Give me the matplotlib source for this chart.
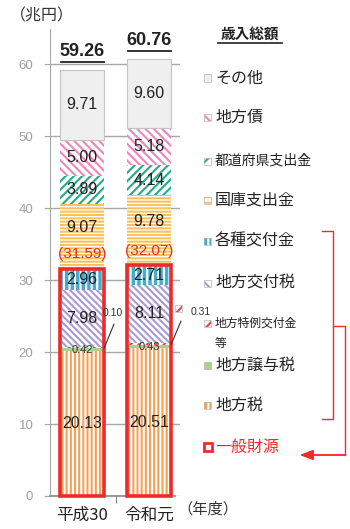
import matplotlib
matplotlib.use("Agg")
import matplotlib.pyplot as plt
from matplotlib.patches import Rectangle
from matplotlib.lines import Line2D

plt.rcParams['font.family'] = ['Noto Sans CJK JP', 'DejaVu Sans']
plt.rcParams['hatch.linewidth'] = 1.5

# ---- data (兆円) ----
categories = ['平成30', '令和元']
local_tax = [20.13, 20.51]          # 地方税
transfer_tax = [0.42, 0.43]         # 地方譲与税
special_grant = [0.10, 0.31]        # 地方特例交付金等
allocation_tax = [7.98, 8.11]       # 地方交付税
misc_grants = [2.96, 2.71]          # 各種交付金
treasury = [9.07, 9.78]             # 国庫支出金
prefectural = [3.89, 4.14]          # 都道府県支出金
bonds = [5.00, 5.18]                # 地方債
other = [9.71, 9.60]                # その他
totals = [59.26, 60.76]             # 歳入総額
general = [31.59, 32.07]            # 一般財源

W, H = 350, 529
RED = '#ee2a2a'
NUM_FONT = ['Liberation Sans', 'DejaVu Sans']


def fp(x, y):
    return (x / W, 1 - y / H)


fig = plt.figure(figsize=(W / 100, H / 100), dpi=100)
ax = fig.add_axes([50 / W, 33 / H, 130 / W, 467.5 / H])
ax.set_xlim(-0.48, 1.46)
ax.set_ylim(0, 65)

# (name, values, face, hatch colour, hatch, show label)
series = [
    ('地方税', local_tax, '#f5a056', 'white', '||||', True),
    ('地方譲与税', transfer_tax, '#a9d18e', '#a9d18e', None, False),
    ('地方特例交付金等', special_grant, 'white', '#e84545', '////', False),
    ('地方交付税', allocation_tax, 'white', '#a99bd3', '\\\\\\\\\\', True),
    ('各種交付金', misc_grants, '#45acd0', 'white', '|||', True),
    ('国庫支出金', treasury, 'white', '#fcc25a', '-----', True),
    ('都道府県支出金', prefectural, 'white', '#22ad84', '////', True),
    ('地方債', bonds, 'white', '#f184bb', '\\\\\\\\', True),
    ('その他', other, '#efefef', '#efefef', None, True),
]
label_shift = {'国庫支出金': 1.2}

x = [0, 1]
width = 0.66
bottom = [0.0, 0.0]
for name, vals, face, hc, hatch, show in series:
    if name == 'その他':
        ax.bar(x, vals, width, bottom=bottom, color=face, edgecolor='#c4c4c4',
               linewidth=0.8, zorder=3)
    else:
        ax.bar(x, vals, width, bottom=bottom, color=face, edgecolor=hc,
               hatch=hatch, linewidth=0, zorder=3)
    if show:
        for i in range(2):
            yc = bottom[i] + vals[i] / 2 + label_shift.get(name, 0)
            ax.text(x[i], yc, f'{vals[i]:.2f}', ha='center', va='center',
                    fontsize=11.5, color='#222222', family=NUM_FONT, zorder=6)
    bottom = [b + v for b, v in zip(bottom, vals)]

# small segment labels
for i in range(2):
    yb = local_tax[i] + transfer_tax[i] / 2
    ax.text(x[i], yb, f'{transfer_tax[i]:.2f}', ha='center', va='center',
            fontsize=8, color='#333333', family=NUM_FONT, zorder=6)

# leader lines for 地方特例交付金等
sg_y = [local_tax[i] + transfer_tax[i] + special_grant[i] / 2 for i in range(2)]
ax.annotate('', xy=(0 + width / 2, sg_y[0]), xycoords='data',
            xytext=fp(114, 324), textcoords='figure fraction',
            arrowprops=dict(arrowstyle='-', color='#333333', lw=0.8,
                            shrinkA=0, shrinkB=0), zorder=7)
fig.text(*fp(113, 313), f'{special_grant[0]:.2f}', ha='center', va='center',
         fontsize=7.5, color='#333333', family=NUM_FONT)
ax.annotate('', xy=(1 + width / 2, sg_y[1]), xycoords='data',
            xytext=fp(181, 321), textcoords='figure fraction',
            arrowprops=dict(arrowstyle='-', color='#333333', lw=0.8,
                            shrinkA=0, shrinkB=0), zorder=7)
fig.text(*fp(201, 312), f'{special_grant[1]:.2f}', ha='center', va='center',
         fontsize=7.5, color='#333333', family=NUM_FONT)


def marker(xpx, ypx, size, face, hc, hatch):
    mx, my = fp(xpx, ypx + size / 2)
    if hatch:
        fig.add_artist(Rectangle((mx, my), size / W, size / H,
                                 transform=fig.transFigure, facecolor=face,
                                 edgecolor=hc, hatch=hatch, linewidth=0))
    fig.add_artist(Rectangle((mx, my), size / W, size / H,
                             transform=fig.transFigure,
                             facecolor='none' if hatch else face,
                             edgecolor='#b8b8b8', linewidth=0.5))


marker(175, 308, 7, 'white', '#e84545', '///')

# 一般財源 boxes and labels
for i in range(2):
    ax.add_patch(Rectangle((x[i] - width / 2, 0), width, general[i], fill=False,
                           edgecolor=RED, linewidth=2.6, zorder=5, clip_on=False))
    ax.text(x[i], general[i] + 2.0, f'({general[i]:.2f})', ha='center',
            va='center', fontsize=11, color=RED, family=NUM_FONT, zorder=6)

# totals, bold and underlined
for i in range(2):
    ax.text(x[i], totals[i] + 2.6, f'{totals[i]:.2f}', ha='center', va='center',
            fontsize=13, fontweight='bold', color='#222222', family=NUM_FONT,
            zorder=6, clip_on=False)
    ax.plot([x[i] - 0.32, x[i] + 0.32], [totals[i] + 1.1] * 2, color='#222222',
            lw=1.3, zorder=6, clip_on=False)

# axes styling
ax.set_yticks(range(0, 61, 10))
ax.yaxis.grid(True, color='#a8a8a8', lw=1.0, zorder=0)
ax.set_axisbelow(True)
ax.tick_params(axis='y', length=4, color='#a8a8a8', pad=8, labelsize=9.5,
               labelcolor='#a0a0a0')
for lab in ax.get_yticklabels():
    lab.set_family(NUM_FONT)
ax.set_xticks([0.5])
ax.set_xticklabels([''])
ax.set_xticks(x, minor=True)
ax.set_xticklabels(categories, minor=True, fontsize=12, color='#222222')
ax.tick_params(axis='x', which='major', length=5, color='#888888')
ax.tick_params(axis='x', which='minor', length=0, pad=8)
ax.spines['top'].set_visible(False)
ax.spines['right'].set_visible(False)
ax.spines['left'].set_color('#a8a8a8')
ax.spines['bottom'].set_color('#888888')
ax.spines['bottom'].set_linewidth(1.2)
ax.spines['bottom'].set_bounds(-0.48, 1.39)

fig.text(*fp(10, 16), '（兆円）', ha='left', va='center', fontsize=11.5,
         color='#333333')
fig.text(*fp(177, 509), '（年度）', ha='left', va='center', fontsize=11,
         color='#333333')

# legend
fig.text(*fp(250, 34), '歳入総額', ha='center', va='center', fontsize=10.5,
         fontweight='bold', color='#222222')
fig.add_artist(Line2D([fp(218, 0)[0], fp(282, 0)[0]], [fp(0, 43)[1]] * 2,
                      transform=fig.transFigure, color='#222222', lw=1.2))

legend_rows = [
    ('その他', 78, 11.5), ('地方債', 117, 11.5), ('都道府県支出金', 161, 10),
    ('国庫支出金', 200, 11.5), ('各種交付金', 241, 11.5), ('地方交付税', 283, 11.5),
    ('地方特例交付金', 323, 8.5), ('地方譲与税', 365, 11.5), ('地方税', 405, 11.5),
]
style = {s[0]: s for s in series}
for name, ypx, fs in legend_rows:
    key = name + ('等' if name == '地方特例交付金' else '')
    _, _, face, hc, hatch, _ = style[key]
    small_hatch = hatch[:3] if hatch else None
    marker(204, ypx, 7, face, hc, small_hatch)
    fig.text(*fp(215, ypx), name, ha='left', va='center', fontsize=fs,
             color='#222222')
fig.text(*fp(215, 343), '等', ha='left', va='center', fontsize=8.5,
         color='#222222')

rx, ry = fp(204, 451)
fig.add_artist(Rectangle((rx, ry), 8 / W, 8 / H, transform=fig.transFigure,
                         facecolor='white', edgecolor=RED, linewidth=2.0))
fig.text(*fp(215, 447), '一般財源', ha='left', va='center', fontsize=11.5,
         color=RED)

# brackets and arrow


def fline(pts):
    xs = [p[0] / W for p in pts]
    ys = [1 - p[1] / H for p in pts]
    fig.add_artist(Line2D(xs, ys, transform=fig.transFigure, color=RED, lw=1.0))


fline([(322, 231), (333, 231), (333, 419), (322, 419)])
fline([(333, 326), (345, 326), (345, 455)])
fig.add_artist(plt.annotate('', xy=fp(300, 455), xycoords='figure fraction',
                            xytext=fp(345.5, 455), textcoords='figure fraction',
                            arrowprops=dict(arrowstyle='-|>,head_length=0.8,head_width=0.3',
                                            color=RED, lw=1.0, shrinkA=0, shrinkB=0)))

fig.savefig('out.png', dpi=100)
